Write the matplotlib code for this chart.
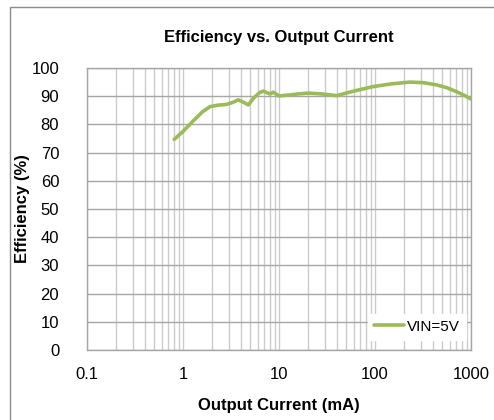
import matplotlib
matplotlib.use("Agg")
import matplotlib.pyplot as plt
from matplotlib.patches import Rectangle

plt.rcParams["font.family"] = ["Liberation Sans", "DejaVu Sans"]

# データ
current_ma = [0.81, 1.0, 1.3, 1.6, 1.91, 2.3, 2.85, 3.3, 3.77, 4.3, 4.79, 5.5,
              6.3, 6.87, 7.4, 8.06, 8.7, 10.0, 12.5, 15.9, 20.2, 28, 39.8,
              60, 95.6, 150, 232, 320, 439, 560, 708, 850, 1000]
efficiency = [74.7, 77.5, 81.5, 84.5, 86.3, 86.8, 87.1, 87.8, 88.7, 87.8, 86.9, 89.5,
              91.3, 91.8, 91.3, 90.8, 91.4, 90.1, 90.4, 90.8, 91.1, 90.8, 90.2,
              91.8, 93.4, 94.4, 95.0, 94.8, 94.0, 93.0, 91.6, 90.3, 89.0]
series_label = "VIN=5V"

y_ticks = list(range(0, 101, 10))
x_ticks = [0.1, 1, 10, 100, 1000]
x_ticklabels = ["0.1", "1", "10", "100", "1000"]

W, H = 494, 420
fig = plt.figure(figsize=(W / 100, H / 100), dpi=100)
ax = fig.add_axes([87 / W, 1 - 350 / H, (471 - 87) / W, (350 - 68) / H])

# 外枠
fig.patches.append(Rectangle((10 / W, -0.05), 1.1, 1 - 7 / H + 0.05,
                             transform=fig.transFigure, fill=False,
                             edgecolor="#8c8c8c", linewidth=1.0))

ax.plot(current_ma, efficiency, color="#9BBB59", linewidth=2.6,
        solid_capstyle="round", label=series_label, zorder=5)

ax.set_xscale("log")
ax.set_xlim(0.1, 1000)
ax.set_ylim(0, 100)
ax.set_xticks(x_ticks)
ax.set_xticklabels(x_ticklabels)
ax.set_yticks(y_ticks)
ax.minorticks_on()
ax.yaxis.set_minor_locator(plt.NullLocator())

ax.grid(which="major", axis="y", color="#a6a6a6", linewidth=1.0)
ax.grid(which="both", axis="x", color="#cccccc", linewidth=1.0)
ax.set_axisbelow(True)
for sp in ax.spines.values():
    sp.set_color("#a6a6a6")
    sp.set_linewidth(1.0)

ax.tick_params(which="both", length=0, labelsize=12, colors="black")
ax.tick_params(axis="x", pad=12)
ax.tick_params(axis="y", pad=20)

ax.set_title("Efficiency vs. Output Current", fontsize=12, fontweight="bold", pad=19)
ax.set_xlabel("Output Current (mA)", fontsize=12, fontweight="bold", labelpad=12)
ax.set_ylabel("Efficiency (%)", fontsize=12, fontweight="bold")
ax.yaxis.set_label_coords(-0.148, 0.5)

leg = ax.legend(loc="lower right", bbox_to_anchor=(1.0, 0.02), frameon=True,
                fontsize=11, handlelength=2.0, handletextpad=0.2,
                borderaxespad=0.3, fancybox=False)
leg.get_frame().set_edgecolor("white")
leg.get_frame().set_facecolor("white")
leg.get_frame().set_alpha(1.0)

fig.savefig("out.png", dpi=100)
